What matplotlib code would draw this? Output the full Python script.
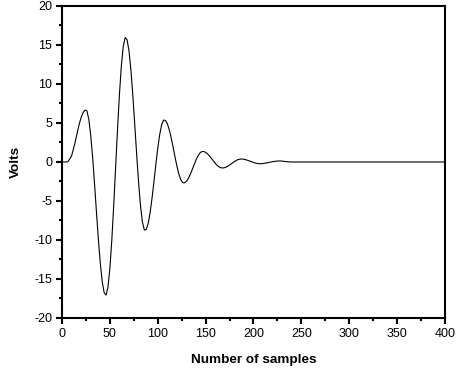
import numpy as np
import matplotlib
matplotlib.use('Agg')
import matplotlib.pyplot as plt
from matplotlib.ticker import MultipleLocator

# sample index (every 2nd sample up to 240, then flat to 400)
samples = list(range(0, 242, 2)) + [400]

# voltage
volts = [0, 0, 0, 0.04, 0.36, 0.8, 1.7, 2.7, 3.8, 4.87, 5.72, 6.33, 6.66,
         6.56, 5.47, 3.40, 0.56, -2.86, -6.47, -9.96, -13.0, -15.35, -16.74,
         -17.07, -16.04, -13.61, -10.02, -5.56, -0.67, 4.23, 8.72, 12.36, 14.86, 15.96,
         15.66, 14.20, 11.73, 8.49, 4.76, 0.92, -2.66, -5.64, -7.71, -8.73,
         -8.65, -7.88, -6.50, -4.66, -2.53, -0.32, 1.75, 3.49, 4.73, 5.37,
         5.33, 4.91, 4.14, 3.12, 1.91, 0.66, -0.53, -1.53, -2.27, -2.65,
         -2.67, -2.48, -2.10, -1.58, -0.97, -0.34, 0.27, 0.78, 1.15, 1.34,
         1.35, 1.24, 1.05, 0.79, 0.48, 0.16, -0.16, -0.42, -0.63, -0.74,
         -0.77, -0.72, -0.62, -0.48, -0.31, -0.12, 0.05, 0.20, 0.31, 0.37,
         0.38, 0.35, 0.29, 0.21, 0.12, 0.03, -0.06, -0.14, -0.19, -0.22,
         -0.22, -0.20, -0.16, -0.11, -0.06, -0.01, 0.04, 0.08, 0.11, 0.13,
         0.13, 0.11, 0.08, 0.05, 0.02, 0.01, 0.0,
         0.0]

plt.rcParams['font.family'] = ['Liberation Sans', 'DejaVu Sans']
plt.rcParams['axes.unicode_minus'] = False

fig = plt.figure(figsize=(4.57, 3.68), dpi=100)
ax = fig.add_axes([0.1357, 0.1359, 0.838, 0.8478])

ax.plot(samples, volts, color='black', linewidth=0.8)

ax.set_xlim(0, 400)
ax.set_ylim(-20, 20)
ax.xaxis.set_major_locator(MultipleLocator(50))
ax.xaxis.set_minor_locator(MultipleLocator(25))
ax.yaxis.set_major_locator(MultipleLocator(5))
ax.yaxis.set_minor_locator(MultipleLocator(2.5))

ax.tick_params(which='major', direction='out', length=4, width=1.5, labelsize=9, pad=3)
ax.tick_params(which='minor', direction='out', length=2.5, width=1.5)
for sp in ax.spines.values():
    sp.set_linewidth(1.5)

ax.set_xlabel('Number of samples', fontsize=9.7, fontweight='bold', labelpad=10)
ax.set_ylabel('Volts', fontsize=9.7, fontweight='bold', labelpad=9)

fig.savefig('out.png', dpi=100)
